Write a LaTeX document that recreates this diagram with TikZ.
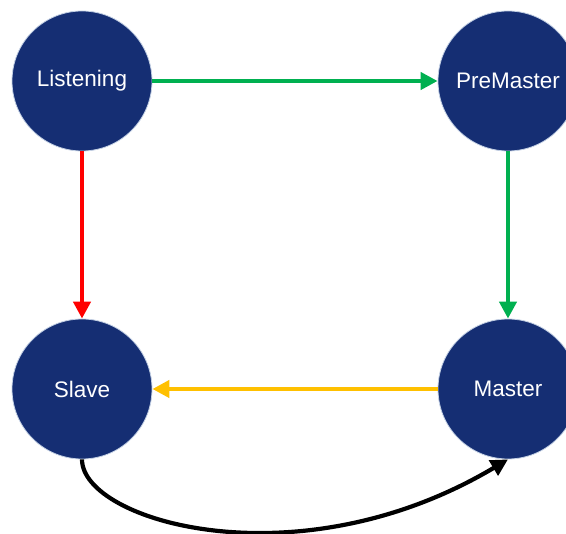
\documentclass[tikz,border=0pt]{standalone}
\usepackage{fontspec}
\setmainfont{Liberation Sans}
\usetikzlibrary{arrows.meta}
\definecolor{navy}{RGB}{21,46,115}
\definecolor{rim}{RGB}{195,208,228}
\definecolor{go}{RGB}{0,176,80}
\definecolor{stop}{RGB}{255,0,0}
\definecolor{amber}{RGB}{255,192,0}
\begin{document}
\begin{tikzpicture}[x=1pt, y=-1pt, ->, >={Triangle[length=17pt,width=17pt]}, line width=4.2pt,
    state/.style = {circle, fill=navy, draw=rim, line width=0.8pt, text=white, minimum size=140pt, inner sep=0pt, font=\fontsize{22.5}{27}\selectfont}]
    \useasboundingbox (0,0) rectangle (566,534);
            \node[state] (listen) at (82,81) {Listening};
            \node[state] (pre) at (508,81) {PreMaster};
            \node[state] (slave) at (82,389) {Slave};
            \node[state] (master) at (508,389) {Master};

            \path (listen) edge [go] (pre);
            \path (pre) edge [go] (master);
            \path (listen) edge [stop] (slave);
            \path (master) edge [amber] (slave);
            \draw (slave.south) .. controls +(0,62) and +(-210,125) .. (master.south);
        \end{tikzpicture}
\end{document}
